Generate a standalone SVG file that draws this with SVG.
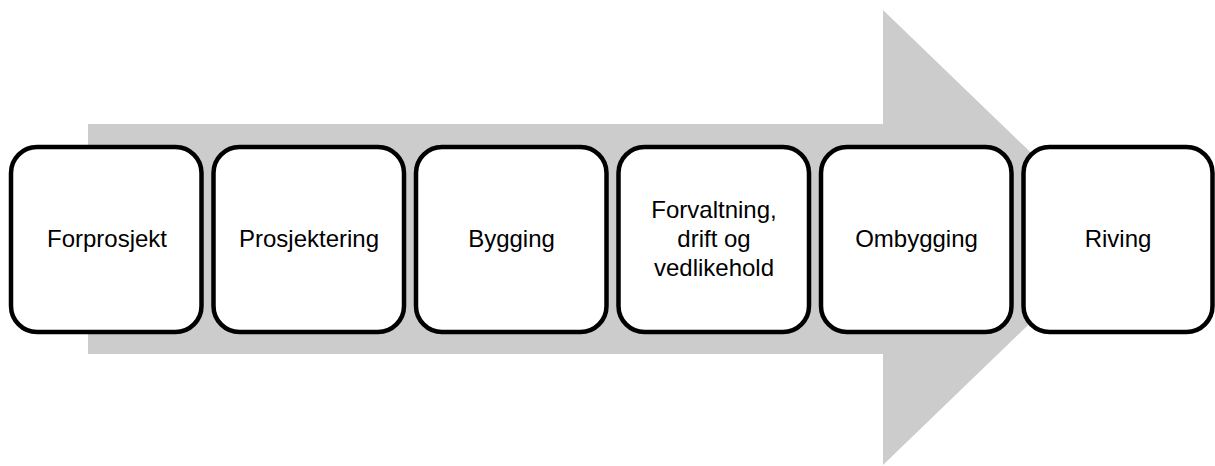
<svg xmlns="http://www.w3.org/2000/svg" width="1215" height="466" viewBox="0 0 1215 466">
<style>
.box{fill:#fff;stroke:#000;stroke-width:4.5}
.lbl{font-family:"Liberation Sans",Arial,sans-serif;font-size:24px;fill:#000;text-anchor:middle}
</style>
<rect width="1215" height="466" fill="#fff"/>
<g id="arrow">
<polygon points="88,124 883,124 883,10 1119,237.5 883,465 883,354 88,354" fill="#cccccc"/>
</g>
<g id="connectors"></g>
<g id="n1"><rect class="box" x="11" y="147" width="190.5" height="185" rx="26"/><text class="lbl" x="107" y="247">Forprosjekt</text></g>
<g id="n2"><rect class="box" x="213.5" y="147" width="190.5" height="185" rx="26"/><text class="lbl" x="309" y="247">Prosjektering</text></g>
<g id="n3"><rect class="box" x="416" y="147" width="190.5" height="185" rx="26"/><text class="lbl" x="511.5" y="247">Bygging</text></g>
<g id="n4"><rect class="box" x="618.5" y="147" width="190.5" height="185" rx="26"/><text class="lbl" x="714" y="218">Forvaltning,</text><text class="lbl" x="714" y="247">drift og</text><text class="lbl" x="714" y="276">vedlikehold</text></g>
<g id="n5"><rect class="box" x="821" y="147" width="190.5" height="185" rx="26"/><text class="lbl" x="916.5" y="247">Ombygging</text></g>
<g id="n6"><rect class="box" x="1023.5" y="147" width="189" height="185" rx="26"/><text class="lbl" x="1118" y="247">Riving</text></g>
</svg>
